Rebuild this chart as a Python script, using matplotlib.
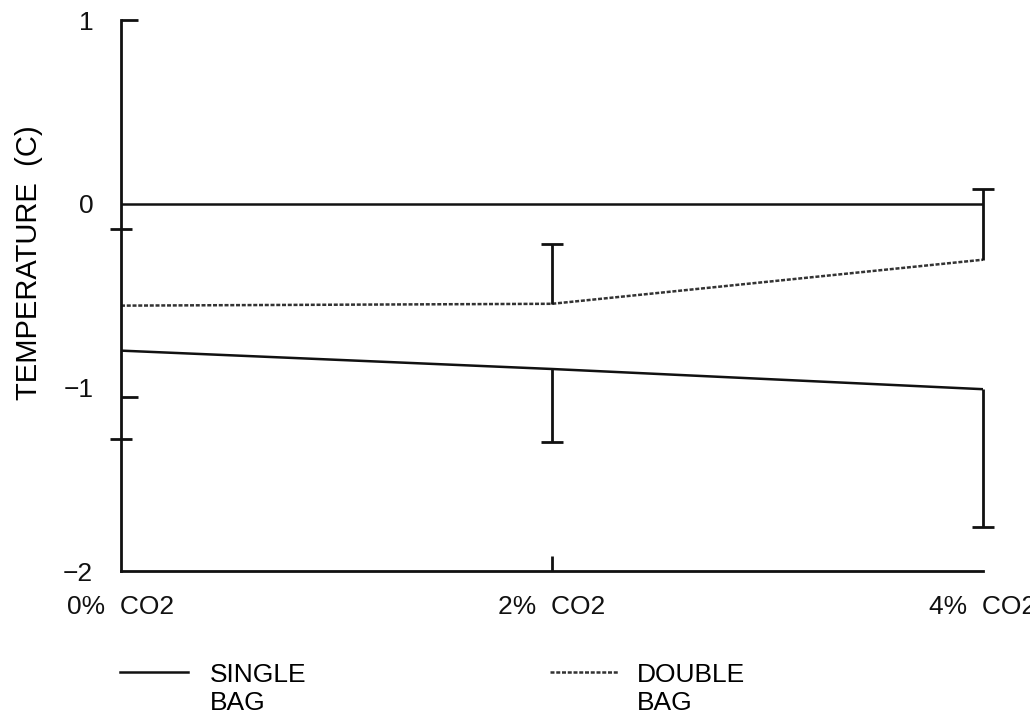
import matplotlib
matplotlib.use("Agg")
import matplotlib.pyplot as plt
from matplotlib.lines import Line2D

plt.rcParams['font.family'] = ['Liberation Sans', 'DejaVu Sans']

# CO2 concentration levels (%)
co2_levels = [0, 2, 4]
co2_labels = ["0%  CO2", "2%  CO2", "4%  CO2"]

# Mean temperature change (C)
single_bag = [-0.80, -0.90, -1.01]
double_bag = [-0.555, -0.545, -0.305]

# One-sided error bars (single: downward, double: upward)
single_err_low = [0.0, 0.40, 0.75]
double_err_high = [0.0, 0.325, 0.385]
err_points = [1, 2]

reference_level = [0, 0, 0]

fig = plt.figure(figsize=(10.30, 7.23), dpi=100)
ax = fig.add_axes([0.1175, 0.2102, 0.8369, 0.7621])

ink = "#111111"
dot_style = (0, (1.6, 0.7))

ax.plot(co2_levels, reference_level, color=ink, lw=1.8, solid_capstyle="butt")
ax.plot(co2_levels, single_bag, color=ink, lw=1.8)
ax.plot(co2_levels, double_bag, color="#333333", lw=1.8, linestyle=dot_style)

# Error bars with a cap only at the far end
for i in err_points:
    x = co2_levels[i]
    lo = single_bag[i] - single_err_low[i]
    ax.vlines(x, lo, single_bag[i], color=ink, lw=2.0, clip_on=False)
    ax.plot([x], [lo], marker="_", ms=16, mew=2.0, color=ink, clip_on=False)
    hi = double_bag[i] + double_err_high[i]
    ax.vlines(x, double_bag[i], hi, color=ink, lw=2.0, clip_on=False)
    ax.plot([x], [hi], marker="_", ms=16, mew=2.0, color=ink, clip_on=False)

ax.set_xlim(0, 4)
ax.set_ylim(-2, 1)

for s in ["top", "right"]:
    ax.spines[s].set_visible(False)
for s in ["left", "bottom"]:
    ax.spines[s].set_linewidth(2.0)
    ax.spines[s].set_color(ink)

ax.xaxis.remove_overlapping_locs = False
ax.yaxis.remove_overlapping_locs = False

ax.set_yticks([1, 0, -1, -2])
ax.set_yticklabels(["1", "0", "\u22121", "\u22122"], fontsize=19)
ax.tick_params(axis="y", which="major", length=0, pad=20, colors=ink)
ax.yaxis.set_minor_locator(matplotlib.ticker.FixedLocator([1, -1.05]))
ax.tick_params(axis="y", which="minor", direction="in", length=12, width=2, colors=ink)

cross = ax.secondary_yaxis("left")
cross.set_yticks([-0.14, -1.28])
cross.set_yticklabels(["", ""])
cross.tick_params(direction="inout", length=16, width=2, colors=ink)
cross.spines["left"].set_visible(False)

ax.set_xticks(co2_levels)
ax.set_xticklabels(co2_labels, fontsize=19)
ax.tick_params(axis="x", which="major", length=0, pad=17, colors=ink)
ax.xaxis.set_minor_locator(matplotlib.ticker.FixedLocator([2]))
ax.tick_params(axis="x", which="minor", direction="in", length=11, width=2, colors=ink)

ax.set_ylabel("TEMPERATURE  (C)", fontsize=21)
ax.yaxis.set_label_coords(-0.09, 0.56)

# Legend drawn below the axes
fig.add_artist(Line2D([120 / 1030, 188 / 1030], [1 - 672 / 723] * 2,
                      color=ink, lw=1.8, transform=fig.transFigure))
fig.add_artist(Line2D([550 / 1030, 618 / 1030], [1 - 672 / 723] * 2,
                      color="#333333", lw=1.8, linestyle=dot_style, transform=fig.transFigure))
fig.text(210 / 1030, 1 - 689 / 723, "SINGLE\nBAG", fontsize=19, va="center", ha="left",
         linespacing=1.2)
fig.text(637 / 1030, 1 - 689 / 723, "DOUBLE\nBAG", fontsize=19, va="center", ha="left",
         linespacing=1.2)

fig.savefig("out.png", dpi=100, facecolor="white")
